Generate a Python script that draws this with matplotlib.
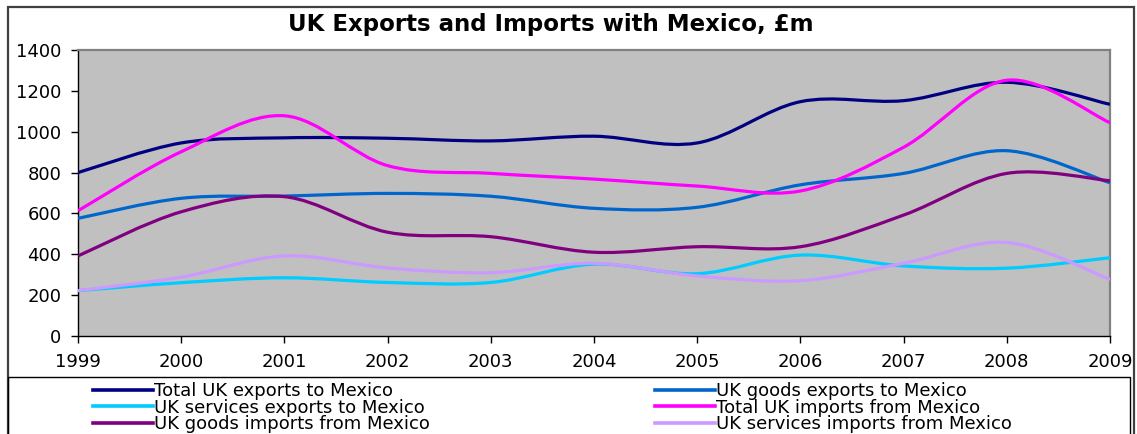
import matplotlib
matplotlib.use('Agg')
import matplotlib.pyplot as plt
import matplotlib.patches as patches
from matplotlib.path import Path
from matplotlib.lines import Line2D

plt.rcParams['font.family'] = ['DejaVu Sans']

# ── data (GBP m) ─────────────────────────────────────────────────────────────
years = [1999, 2000, 2001, 2002, 2003, 2004, 2005, 2006, 2007, 2008, 2009]
total_exports = [800, 945, 970, 968, 955, 978, 945, 1147, 1152, 1242, 1134]
goods_exports = [576, 674, 685, 698, 684, 625, 630, 740, 796, 907, 750]
services_exports = [222, 261, 285, 262, 262, 352, 305, 396, 343, 332, 383]
total_imports = [613, 902, 1078, 834, 796, 768, 734, 710, 924, 1252, 1044]
goods_imports = [392, 608, 682, 508, 486, 410, 437, 437, 592, 796, 760]
services_imports = [222, 288, 392, 333, 310, 356, 294, 271, 356, 458, 277]

series = [
    ('Total UK exports to Mexico', total_exports, '#000080'),
    ('UK goods exports to Mexico', goods_exports, '#0066CC'),
    ('UK services exports to Mexico', services_exports, '#00CCFF'),
    ('Total UK imports from Mexico', total_imports, '#FF00FF'),
    ('UK goods imports from Mexico', goods_imports, '#800080'),
    ('UK services imports from Mexico', services_imports, '#CC99FF'),
]

W, H = 1137, 434
fig = plt.figure(figsize=(W / 100, H / 100), dpi=100)
ax = fig.add_axes([78 / W, 1 - 336 / H, (1110 - 78) / W, (336 - 50) / H])
ax.set_facecolor('#C0C0C0')


def smooth_path(xs, ys):
    # Excel-style smoothed line: cubic Bezier through each point
    pts = list(zip(xs, ys))
    n = len(pts)
    verts = [pts[0]]
    codes = [Path.MOVETO]
    for i in range(n - 1):
        p0 = pts[i - 1] if i > 0 else pts[i]
        p1 = pts[i]
        p2 = pts[i + 1]
        p3 = pts[i + 2] if i + 2 < n else pts[i + 1]
        c1 = (p1[0] + (p2[0] - p0[0]) / 6, p1[1] + (p2[1] - p0[1]) / 6)
        c2 = (p2[0] - (p3[0] - p1[0]) / 6, p2[1] - (p3[1] - p1[1]) / 6)
        verts += [c1, c2, p2]
        codes += [Path.CURVE4] * 3
    return Path(verts, codes)


handles = []
for label, vals, col in series:
    ax.add_patch(patches.PathPatch(smooth_path(years, vals), facecolor='none',
                                   edgecolor=col, lw=2.3, capstyle='butt',
                                   zorder=3))
    handles.append(Line2D([0], [0], color=col, lw=2.6, label=label))

ax.set_xlim(1999, 2009)
ax.set_ylim(0, 1400)
ax.set_xticks(years)
ax.set_yticks(range(0, 1401, 200))
ax.tick_params(axis='both', labelsize=13, length=5, width=1, direction='out',
               color='black', pad=7)

for s in ['left', 'bottom']:
    ax.spines[s].set_color('black')
    ax.spines[s].set_linewidth(1)
for s in ['top', 'right']:
    ax.spines[s].set_color('#808080')
    ax.spines[s].set_linewidth(1.6)

# title
fig.text(551 / W, 1 - 25 / H, 'UK Exports and Imports with Mexico, £m',
         ha='center', va='center', fontsize=16.5, fontweight='bold')

# outer chart border and legend box
fig.add_artist(patches.Rectangle((8 / W, -0.1), (1134 - 8) / W, 1.1 - 7 / H,
                                 transform=fig.transFigure, fill=False,
                                 edgecolor='#404040', lw=1.6))
fig.add_artist(patches.Rectangle((8 / W, -0.1), (1130 - 8) / W,
                                 0.1 + 1 - 377 / H,
                                 transform=fig.transFigure, fill=False,
                                 edgecolor='black', lw=1))

# legend, two columns (row order as in the original)
col1 = [handles[0], handles[2], handles[4]]
col2 = [handles[1], handles[3], handles[5]]
for hs, x0 in [(col1, 93), (col2, 655)]:
    leg = fig.legend(handles=hs, loc='upper left',
                     bbox_to_anchor=(x0 / W, 1 - 382 / H),
                     frameon=False, fontsize=13, borderpad=0,
                     borderaxespad=0, handlelength=3.3, handletextpad=0.1,
                     labelspacing=-0.08)

fig.savefig('out.png', dpi=100)
